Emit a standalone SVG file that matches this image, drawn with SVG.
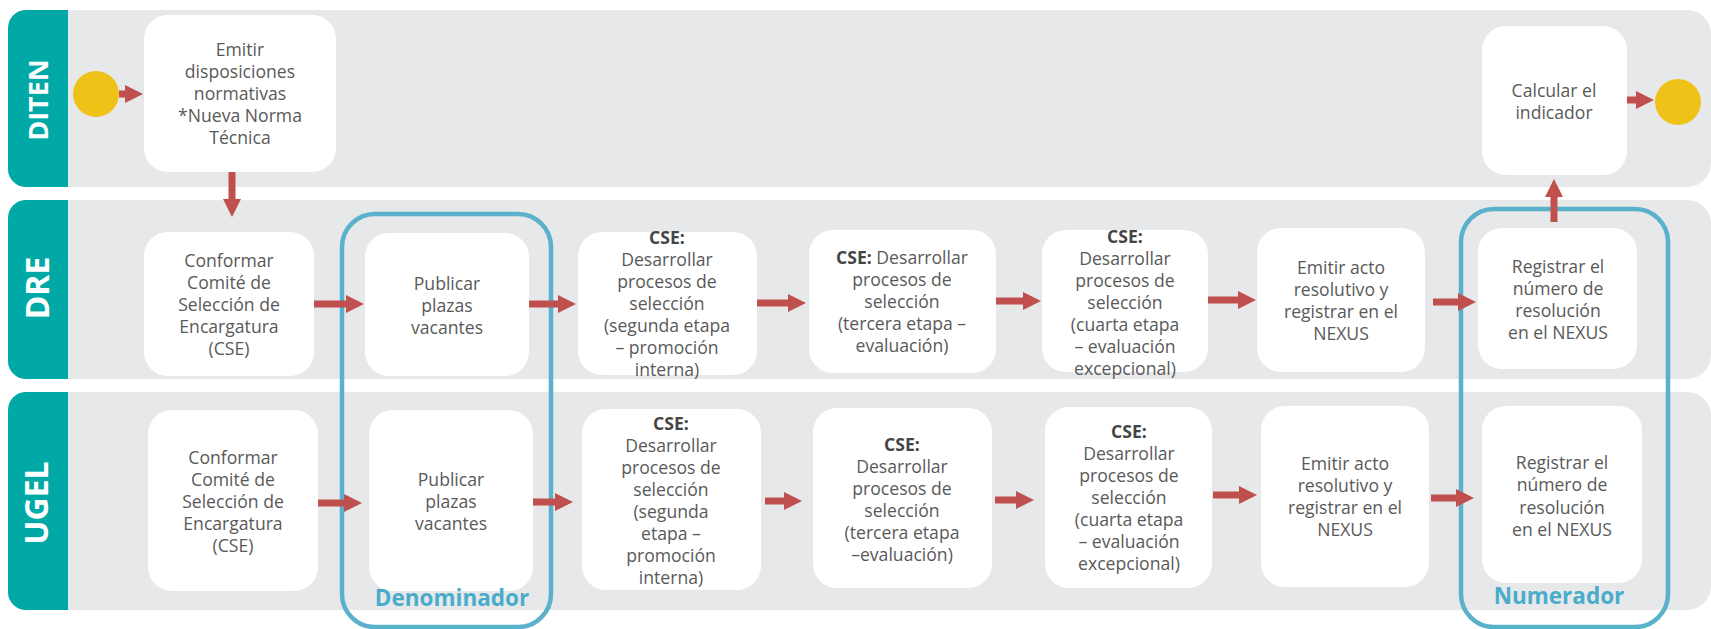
<svg xmlns="http://www.w3.org/2000/svg" width="1711" height="629" viewBox="0 0 1711 629">
<style>
.band{fill:#e7e8ea}
.hdr{fill:#00a9a6}
.lane{font-family:"Open Sans","Noto Sans",sans-serif;font-weight:bold;fill:#ffffff;text-anchor:middle}
.box{fill:#ffffff}
.t{font-family:"Open Sans","Noto Sans",sans-serif;font-size:17.6px;fill:#595959;text-anchor:middle}
.b{font-weight:bold;fill:#454545}
.ev{fill:#efc21a}
.grp{fill:none;stroke:#5ab1cb;stroke-width:4.5}
.gl{font-family:"Open Sans","Noto Sans",sans-serif;font-size:22.5px;font-weight:bold;fill:#4aaccb;text-anchor:middle}
.arr{stroke:#c0504d;stroke-width:7;fill:none;marker-end:url(#ah)}
</style>
<defs>
<marker id="ah" markerUnits="userSpaceOnUse" viewBox="0 0 18 18" markerWidth="18" markerHeight="18" refX="1" refY="9" orient="auto">
<path d="M0,0 L18,9 L0,18 z" fill="#c0504d"/>
</marker>
</defs>
<rect x="0" y="0" width="1711" height="629" fill="#ffffff"/>

<g id="lane-diten">
<rect class="band" x="8" y="10" width="1703" height="177" rx="24"/>
<path class="hdr" d="M68,10 V187 H26 A18,18 0 0 1 8,169 V28 A18,18 0 0 1 26,10 Z"/>
<text class="lane" font-size="27" transform="translate(48,100) rotate(-90)">DITEN</text>
</g>
<g id="lane-dre">
<rect class="band" x="8" y="200" width="1703" height="179" rx="24"/>
<path class="hdr" d="M68,200 V379 H26 A18,18 0 0 1 8,361 V218 A18,18 0 0 1 26,200 Z"/>
<text class="lane" font-size="32" transform="translate(49,288) rotate(-90)">DRE</text>
</g>
<g id="lane-ugel">
<rect class="band" x="8" y="392" width="1703" height="218" rx="24"/>
<path class="hdr" d="M68,392 V610 H26 A18,18 0 0 1 8,592 V410 A18,18 0 0 1 26,392 Z"/>
<text class="lane" font-size="32" transform="translate(48,503) rotate(-90)">UGEL</text>
</g>

<g id="start"><circle class="ev" cx="96" cy="94" r="23"/></g>
<g id="end"><circle class="ev" cx="1678" cy="102" r="23"/></g>

<g id="n-emitir-disp">
<rect class="box" x="144" y="15" width="192" height="157" rx="24"/>
<text class="t"><tspan x="240" y="56">Emitir</tspan><tspan x="240" y="78">disposiciones</tspan><tspan x="240" y="100">normativas</tspan><tspan x="240" y="122">*Nueva Norma</tspan><tspan x="240" y="144">Técnica</tspan></text>
</g>
<g id="n-calcular">
<rect class="box" x="1482" y="26" width="145" height="149" rx="24"/>
<text class="t"><tspan x="1554" y="97">Calcular el</tspan><tspan x="1554" y="119">indicador</tspan></text>
</g>

<g id="n-dre-conformar">
<rect class="box" x="144" y="232" width="170" height="144" rx="24"/>
<text class="t"><tspan x="229" y="267">Conformar</tspan><tspan x="229" y="289">Comité de</tspan><tspan x="229" y="311">Selección de</tspan><tspan x="229" y="333">Encargatura</tspan><tspan x="229" y="355">(CSE)</tspan></text>
</g>
<g id="n-dre-publicar">
<rect class="box" x="365" y="233" width="164" height="143" rx="24"/>
<text class="t"><tspan x="447" y="290">Publicar</tspan><tspan x="447" y="312">plazas</tspan><tspan x="447" y="334">vacantes</tspan></text>
</g>
<g id="n-dre-cse2">
<rect class="box" x="578" y="232" width="179" height="143" rx="24"/>
<text class="t"><tspan class="b" x="667" y="244">CSE:</tspan><tspan x="667" y="266">Desarrollar</tspan><tspan x="667" y="288">procesos de</tspan><tspan x="667" y="310">selección</tspan><tspan x="667" y="332">(segunda etapa</tspan><tspan x="667" y="354">– promoción</tspan><tspan x="667" y="376">interna)</tspan></text>
</g>
<g id="n-dre-cse3">
<rect class="box" x="809" y="230" width="187" height="143" rx="24"/>
<text class="t"><tspan x="902" y="264"><tspan class="b">CSE:</tspan> Desarrollar</tspan><tspan x="902" y="286">procesos de</tspan><tspan x="902" y="308">selección</tspan><tspan x="902" y="330">(tercera etapa –</tspan><tspan x="902" y="352">evaluación)</tspan></text>
</g>
<g id="n-dre-cse4">
<rect class="box" x="1042" y="230" width="166" height="142" rx="24"/>
<text class="t"><tspan class="b" x="1125" y="243">CSE:</tspan><tspan x="1125" y="265">Desarrollar</tspan><tspan x="1125" y="287">procesos de</tspan><tspan x="1125" y="309">selección</tspan><tspan x="1125" y="331">(cuarta etapa</tspan><tspan x="1125" y="353">– evaluación</tspan><tspan x="1125" y="375">excepcional)</tspan></text>
</g>
<g id="n-dre-emitir">
<rect class="box" x="1257" y="228" width="168" height="144" rx="24"/>
<text class="t"><tspan x="1341" y="274">Emitir acto</tspan><tspan x="1341" y="296">resolutivo y</tspan><tspan x="1341" y="318">registrar en el</tspan><tspan x="1341" y="340">NEXUS</tspan></text>
</g>
<g id="n-dre-registrar">
<rect class="box" x="1478" y="228" width="159" height="141" rx="24"/>
<text class="t"><tspan x="1558" y="273">Registrar el</tspan><tspan x="1558" y="295">número de</tspan><tspan x="1558" y="317">resolución</tspan><tspan x="1558" y="339">en el NEXUS</tspan></text>
</g>

<g id="n-ugel-conformar">
<rect class="box" x="148" y="410" width="170" height="181" rx="24"/>
<text class="t"><tspan x="233" y="464">Conformar</tspan><tspan x="233" y="486">Comité de</tspan><tspan x="233" y="508">Selección de</tspan><tspan x="233" y="530">Encargatura</tspan><tspan x="233" y="552">(CSE)</tspan></text>
</g>
<g id="n-ugel-publicar">
<rect class="box" x="369" y="410" width="164" height="181" rx="24"/>
<text class="t"><tspan x="451" y="486">Publicar</tspan><tspan x="451" y="508">plazas</tspan><tspan x="451" y="530">vacantes</tspan></text>
</g>
<g id="n-ugel-cse2">
<rect class="box" x="582" y="409" width="179" height="181" rx="24"/>
<text class="t"><tspan class="b" x="671" y="430">CSE:</tspan><tspan x="671" y="452">Desarrollar</tspan><tspan x="671" y="474">procesos de</tspan><tspan x="671" y="496">selección</tspan><tspan x="671" y="518">(segunda</tspan><tspan x="671" y="540">etapa –</tspan><tspan x="671" y="562">promoción</tspan><tspan x="671" y="584">interna)</tspan></text>
</g>
<g id="n-ugel-cse3">
<rect class="box" x="813" y="408" width="179" height="180" rx="24"/>
<text class="t"><tspan class="b" x="902" y="451">CSE:</tspan><tspan x="902" y="473">Desarrollar</tspan><tspan x="902" y="495">procesos de</tspan><tspan x="902" y="517">selección</tspan><tspan x="902" y="539">(tercera etapa</tspan><tspan x="902" y="561">–evaluación)</tspan></text>
</g>
<g id="n-ugel-cse4">
<rect class="box" x="1045" y="407" width="167" height="181" rx="24"/>
<text class="t"><tspan class="b" x="1129" y="438">CSE:</tspan><tspan x="1129" y="460">Desarrollar</tspan><tspan x="1129" y="482">procesos de</tspan><tspan x="1129" y="504">selección</tspan><tspan x="1129" y="526">(cuarta etapa</tspan><tspan x="1129" y="548">– evaluación</tspan><tspan x="1129" y="570">excepcional)</tspan></text>
</g>
<g id="n-ugel-emitir">
<rect class="box" x="1261" y="406" width="168" height="181" rx="24"/>
<text class="t"><tspan x="1345" y="470">Emitir acto</tspan><tspan x="1345" y="492">resolutivo y</tspan><tspan x="1345" y="514">registrar en el</tspan><tspan x="1345" y="536">NEXUS</tspan></text>
</g>
<g id="n-ugel-registrar">
<rect class="box" x="1482" y="406" width="160" height="177" rx="24"/>
<text class="t"><tspan x="1562" y="469">Registrar el</tspan><tspan x="1562" y="491">número de</tspan><tspan x="1562" y="514">resolución</tspan><tspan x="1562" y="536">en el NEXUS</tspan></text>
</g>

<g id="denominador">
<rect class="grp" x="342" y="214" width="209" height="413" rx="33"/>
<text class="gl" x="452" y="606">Denominador</text>
</g>
<g id="numerador">
<rect class="grp" x="1461" y="209" width="207" height="418" rx="33"/>
<text class="gl" x="1559" y="604">Numerador</text>
</g>

<g id="connectors">
<path class="arr" d="M119,94 H126"/>
<path class="arr" d="M232,172 V200"/>
<path class="arr" d="M314,304 H347"/>
<path class="arr" d="M529,304 H559"/>
<path class="arr" d="M757,303 H789"/>
<path class="arr" d="M996,301 H1024"/>
<path class="arr" d="M1208,300 H1239"/>
<path class="arr" d="M1433,302 H1459"/>
<path class="arr" d="M1554,222 V196"/>
<path class="arr" d="M1627,100 H1637"/>
<path class="arr" d="M318,503 H345"/>
<path class="arr" d="M533,502 H556"/>
<path class="arr" d="M765,501 H785"/>
<path class="arr" d="M995,500 H1017"/>
<path class="arr" d="M1213,495 H1240"/>
<path class="arr" d="M1431,498 H1457"/>
</g>
</svg>
